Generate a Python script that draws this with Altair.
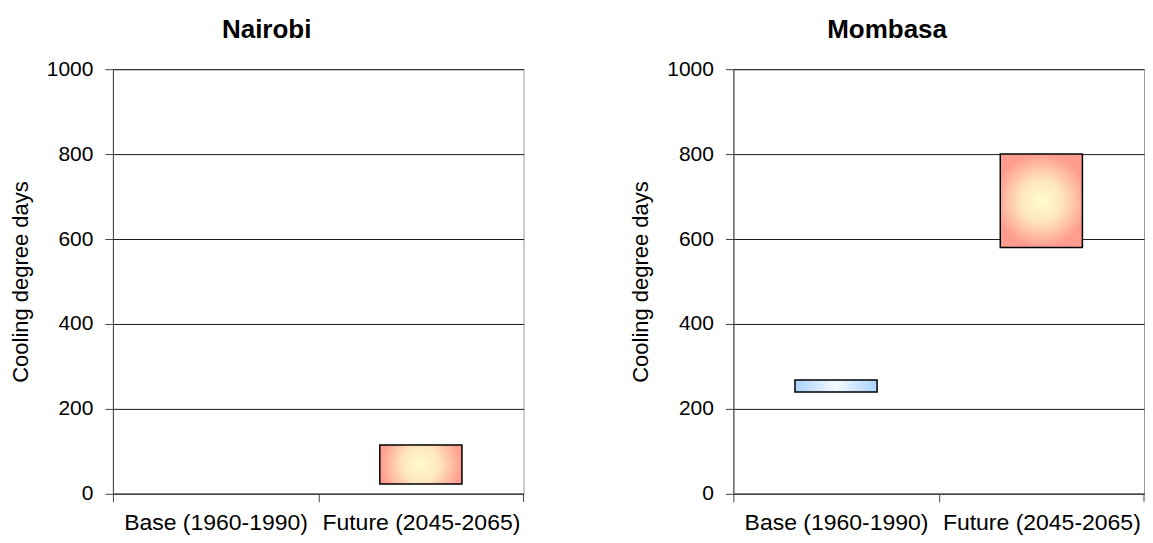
import altair as alt
import pandas as pd

# ---- data ----
cities = ["Nairobi", "Mombasa"]
periods = ["Base (1960-1990)", "Future (2045-2065)"]
bar_city = ["Nairobi", "Mombasa", "Mombasa"]
bar_period = ["Future (2045-2065)", "Base (1960-1990)", "Future (2045-2065)"]
bar_low = [23, 240, 580]
bar_high = [115, 268, 800]
y_ticks = [0, 200, 400, 600, 800, 1000]

df = pd.DataFrame({"city": bar_city, "period": bar_period, "low": bar_low, "high": bar_high})

FONT = "Liberation Sans"
W, H = 411, 425

warm = alt.RadialGradient(
    gradient="radial",
    stops=[
        alt.GradientStop(color="#FFFBD0", offset=0),
        alt.GradientStop(color="#FFE6BE", offset=0.45),
        alt.GradientStop(color="#FF9C90", offset=1),
    ],
    x1=0.5, y1=0.5, r1=0, x2=0.5, y2=0.5, r2=0.5,
)
cool = alt.RadialGradient(
    gradient="radial",
    stops=[
        alt.GradientStop(color="#F6FBFF", offset=0),
        alt.GradientStop(color="#D2E9FF", offset=0.45),
        alt.GradientStop(color="#A9D3FF", offset=1),
    ],
    x1=0.5, y1=0.5, r1=0, x2=0.5, y2=0.5, r2=0.5,
)


def panel(city):
    base = alt.Chart(df).transform_filter(alt.datum.city == city)
    x = alt.X(
        "period:N",
        scale=alt.Scale(domain=periods, paddingInner=0.6, paddingOuter=0.3),
        axis=alt.Axis(
            title=None,
            labelAngle=0,
            labelLimit=0,
            labelFontSize=23,
            tickOffset=-W / 4,
            labelOffset=W / 4,
            tickSize=8,
            labelPadding=10,
            domainWidth=1.5,
        ),
    )
    y = alt.Y(
        "low:Q",
        scale=alt.Scale(domain=[0, 1000], nice=False),
        axis=alt.Axis(
            values=y_ticks,
            format="d",
            title="Cooling degree days",
            titleFontSize=22,
            labelFontSize=21,
            grid=True,
            gridColor="#1a1a1a",
            gridWidth=1,
            tickSize=8,
            labelPadding=12,
            titlePadding=14,
        ),
    )
    cool_bars = base.transform_filter(alt.datum.period == periods[0]).mark_bar(
        fill=cool, stroke="#000", strokeWidth=1.5
    ).encode(x=x, y=y, y2="high:Q")
    warm_bars = base.transform_filter(alt.datum.period == periods[1]).mark_bar(
        fill=warm, stroke="#000", strokeWidth=1.5
    ).encode(x=x, y=y, y2="high:Q")
    end_tick = alt.Chart(pd.DataFrame({"k": [0]})).mark_rule(color="#444", strokeWidth=1).encode(
        x=alt.value(W), y=alt.value(H), y2=alt.value(H + 8)
    )
    return alt.layer(cool_bars, warm_bars, end_tick).properties(
        width=W, height=H,
        title=alt.TitleParams(text=city, offset=15, frame="bounds", anchor="middle"),
    )


chart = (
    alt.hconcat(panel("Nairobi"), panel("Mombasa"), spacing=104)
    .properties(padding={"left": 0, "top": 8, "right": 0, "bottom": 0})
    .configure_view(stroke="#999", strokeWidth=1)
    .configure_axis(
        labelFont=FONT,
        titleFont=FONT,
        labelColor="#000",
        titleColor="#000",
        titleFontWeight="normal",
        tickColor="#444",
        domainColor="#444",
    )
    .configure_title(font=FONT, fontSize=26, fontWeight="bold", color="#000")
)

chart.save("out.html", embed_options={"renderer": "svg", "actions": False})
